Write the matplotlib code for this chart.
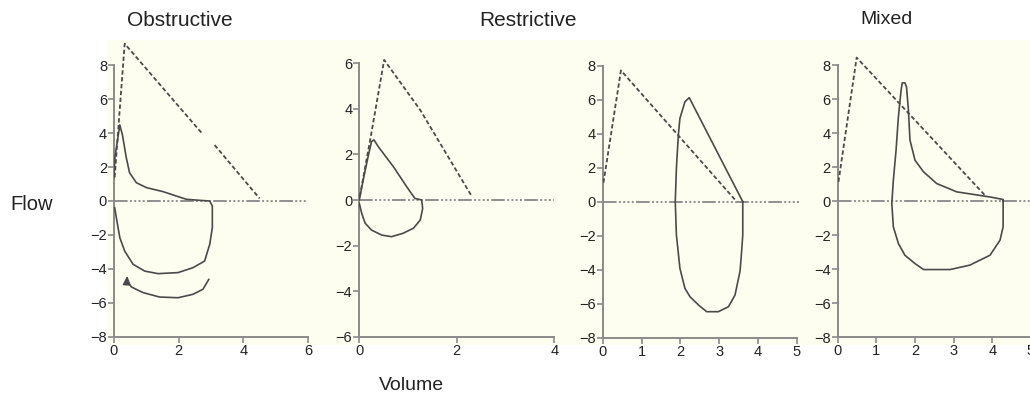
import matplotlib
matplotlib.use('Agg')
import matplotlib.pyplot as plt
from matplotlib.patches import Rectangle
import numpy as np

plt.rcParams['font.family'] = ['Liberation Sans', 'DejaVu Sans']

# panel titles
titles = ['Obstructive', 'Restrictive', 'Mixed']

# Obstructive: predicted (dashed), measured loop, extra inspiratory arc with arrow
obs_pred_x = [0.02, 0.33, 2.70, np.nan, 3.11, 4.50]
obs_pred_y = [1.40, 9.27, 4.03, np.nan, 3.30, 0.15]
obs_loop_x = [0.0, 0.03, 0.07, 0.18, 0.26, 0.38, 0.48, 0.69, 1.00, 1.52, 1.93, 2.24, 2.65,
              2.96, 3.04, 3.04, 2.96, 2.80, 2.44, 1.98, 1.36, 0.95, 0.59, 0.33, 0.18, 0.09, 0.02]
obs_loop_y = [1.40, 2.60, 3.10, 4.48, 3.90, 2.55, 1.67, 1.08, 0.79, 0.55, 0.29, 0.10, 0.04,
              0.00, -0.30, -1.57, -2.55, -3.54, -3.93, -4.22, -4.28, -4.13, -3.73, -2.95, -2.16, -1.18, -0.39]
obs_arc_x = [2.93, 2.75, 2.44, 1.98, 1.41, 0.90, 0.54, 0.40, 0.41]
obs_arc_y = [-4.62, -5.20, -5.50, -5.70, -5.66, -5.40, -5.07, -4.70, -4.40]

# Restrictive
res_pred_x = [0.01, 0.22, 0.51, 1.25, 2.31]
res_pred_y = [0.15, 2.60, 6.15, 3.95, 0.15]
res_loop_x = [0.0, 0.08, 0.18, 0.25, 0.30, 0.39, 0.70, 0.97, 1.14, 1.28, 1.30, 1.25, 1.11,
              0.90, 0.66, 0.46, 0.25, 0.12, 0.05, 0.0]
res_loop_y = [0.0, 0.88, 1.90, 2.56, 2.64, 2.34, 1.46, 0.59, 0.07, 0.0, -0.37, -0.88, -1.24,
              -1.46, -1.61, -1.54, -1.32, -1.02, -0.59, -0.15]

# Restrictive (second panel, no own title)
res2_pred_x = [0.02, 0.47, 3.44]
res2_pred_y = [1.12, 7.72, 0.04]
res2_loop_x = [3.61, 2.23, 2.12, 1.99, 1.95, 1.90, 1.87, 1.90, 1.99, 2.12, 2.25, 2.47, 2.68,
               2.98, 3.24, 3.41, 3.54, 3.58, 3.61, 3.61]
res2_loop_y = [0.0, 6.12, 5.88, 4.90, 3.92, 2.00, 0.0, -1.96, -3.92, -5.10, -5.59, -6.08, -6.47,
               -6.47, -6.18, -5.49, -4.08, -2.94, -1.96, 0.0]

# Mixed
mix_pred_x = [0.02, 0.49, 3.85]
mix_pred_y = [1.14, 8.45, 0.25]
mix_loop_x = [4.28, 4.28, 3.94, 3.08, 2.56, 2.22, 2.00, 1.87, 1.83, 1.78, 1.74, 1.67, 1.64,
              1.57, 1.51, 1.44, 1.40, 1.44, 1.57, 1.74, 2.00, 2.22, 2.91, 3.42, 3.94, 4.20,
              4.28, 4.28, 4.28]
mix_loop_y = [0.0, 0.10, 0.25, 0.55, 1.04, 1.73, 2.41, 3.59, 5.35, 6.73, 6.96, 6.96, 6.53,
              4.96, 3.00, 1.24, -0.14, -1.51, -2.49, -3.18, -3.67, -4.02, -4.02, -3.76, -3.18,
              -2.29, -1.51, -0.73, 0.0]

W, H = 1030, 412
fig = plt.figure(figsize=(W / 100, H / 100), dpi=100)
fig.patches.append(Rectangle((107 / W, 1 - 345 / H), (W - 107) / W, (345 - 40) / H,
                             transform=fig.transFigure, facecolor='#fefef0',
                             edgecolor='none', zorder=-1))

AX_COL = '#8a8a8a'
LINE_COL = '#4a4a4a'
ZERO_DASH = (0, (7, 1.2, 1, 1.2, 1, 1.2, 1, 1.2, 1, 1.2))


def axes_at(ox, sx, oy, sy, xlim, ylim):
    left = ox + xlim[0] * sx
    right = ox + xlim[1] * sx
    top = oy - ylim[1] * sy
    bottom = oy - ylim[0] * sy
    return fig.add_axes([left / W, 1 - bottom / H, (right - left) / W, (bottom - top) / H])


def style(ax, xticks, yticks, xlim, ylim, zero_end):
    ax.set_facecolor('none')
    ax.set_xlim(xlim)
    ax.set_ylim(ylim)
    ax.set_xticks(xticks)
    ax.set_yticks(yticks)
    ax.set_yticklabels([str(t).replace('-', '\u2212') for t in yticks])
    for s in ('top', 'right'):
        ax.spines[s].set_visible(False)
    for s in ('left', 'bottom'):
        ax.spines[s].set_color(AX_COL)
        ax.spines[s].set_linewidth(1.4)
    ax.spines['left'].set_bounds(yticks[0], yticks[-1])
    ax.spines['bottom'].set_bounds(xticks[0], xticks[-1])
    ax.tick_params(colors=AX_COL, labelcolor='#222222', labelsize=10.5, length=4,
                   width=1.2, pad=1)
    ax.plot([0, zero_end], [0, 0], color='#909090', lw=1.4, ls=ZERO_DASH, zorder=1)


def draw(ax, px, py, lx, ly):
    ax.plot(px, py, color=LINE_COL, lw=1.3, ls=(0, (2.4, 1.4)), zorder=3)
    ax.plot(lx, ly, color=LINE_COL, lw=1.2, zorder=3)


ax1 = axes_at(114, 32.35, 201, 16.97, (0, 6), (-8, 9.6))
style(ax1, [0, 2, 4, 6], list(range(-8, 9, 2)), (0, 6), (-8, 9.6), 6)
draw(ax1, obs_pred_x, obs_pred_y, obs_loop_x, obs_loop_y)
ax1.plot(obs_arc_x[:-1], obs_arc_y[:-1], color=LINE_COL, lw=1.2, zorder=3)
ax1.annotate('', xy=(obs_arc_x[-1], obs_arc_y[-1]), xytext=(obs_arc_x[-2], obs_arc_y[-2]),
             arrowprops=dict(arrowstyle='-|>,head_length=0.5,head_width=0.22',
                             color=LINE_COL, lw=1.2, shrinkA=0, shrinkB=0))

ax2 = axes_at(359.3, 48.75, 200, 22.78, (0, 4), (-6, 6.5))
style(ax2, [0, 2, 4], list(range(-6, 7, 2)), (0, 4), (-6, 6.5), 4)
draw(ax2, res_pred_x, res_pred_y, res_loop_x, res_loop_y)

ax3 = axes_at(602.7, 38.8, 201.7, 17.0, (0, 5.1), (-8, 8.5))
style(ax3, [0, 1, 2, 3, 4, 5], list(range(-8, 9, 2)), (0, 5.1), (-8, 8.5), 5.1)
draw(ax3, res2_pred_x, res2_pred_y, res2_loop_x, res2_loop_y)

ax4 = axes_at(837.7, 38.65, 201.2, 17.0, (0, 5.0), (-8, 8.8))
style(ax4, [0, 1, 2, 3, 4, 5], list(range(-8, 9, 2)), (0, 5.0), (-8, 8.8), 5.0)
draw(ax4, mix_pred_x, mix_pred_y, mix_loop_x, mix_loop_y)

for t, cx, fs in zip(titles, [180, 528, 887], [15, 15, 14]):
    fig.text(cx / W, 1 - 20 / H, t, ha='center', va='center', fontsize=fs, color='#222222')
fig.text(32 / W, 1 - 204 / H, 'Flow', ha='center', va='center', fontsize=14.5, color='#222222')
fig.text(411 / W, 1 - 385 / H, 'Volume', ha='center', va='center', fontsize=14, color='#222222')

fig.savefig('out.png', dpi=100)
